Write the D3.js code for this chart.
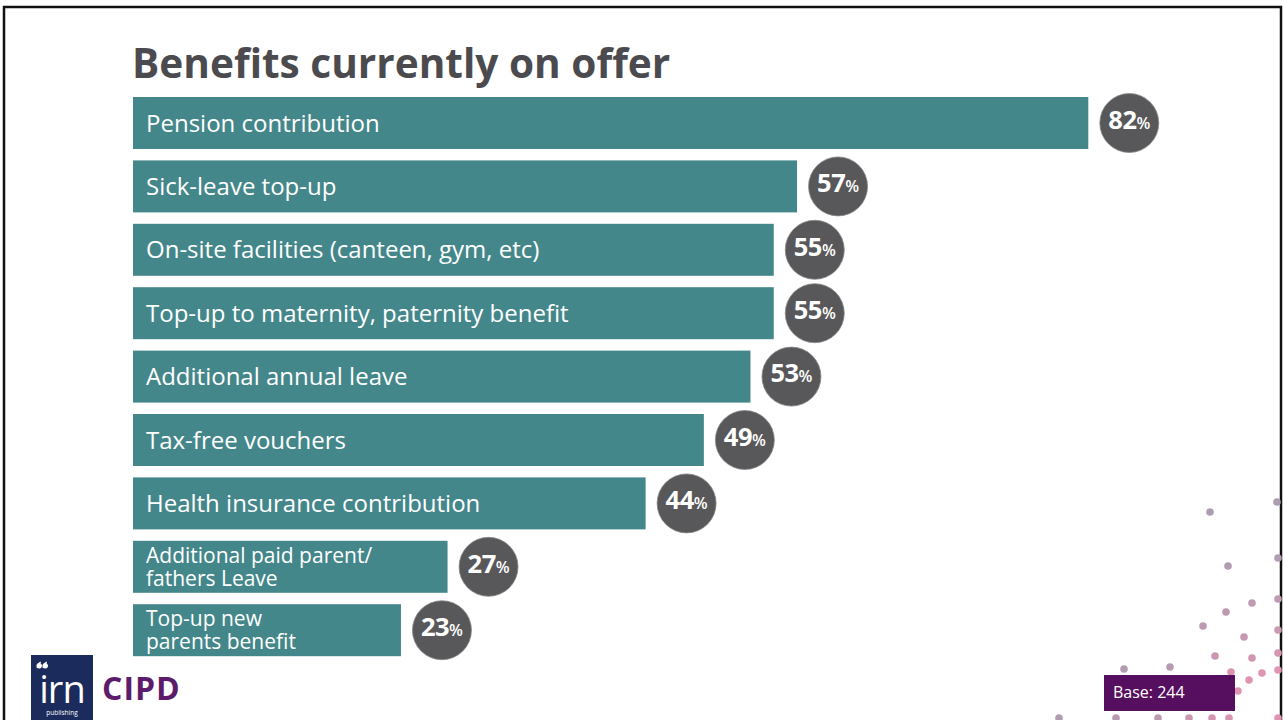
<!DOCTYPE html>
<html>
<head>
<meta charset="utf-8">
<script src="https://cdn.jsdelivr.net/npm/d3@7"></script>
<style>
  html, body { margin: 0; padding: 0; background: #fff; }
  svg { display: block; }
</style>
</head>
<body>
<svg id="chart" width="1283" height="720"></svg>
<script>
// Benefit categories (explicit line breaks with "\n") and share of employers offering them
const categories = [
  "Pension contribution",
  "Sick-leave top-up",
  "On-site facilities (canteen, gym, etc)",
  "Top-up to maternity, paternity benefit",
  "Additional annual leave",
  "Tax-free vouchers",
  "Health insurance contribution",
  "Additional paid parent/\nfathers Leave",
  "Top-up new\nparents benefit"
];
const values = [82, 57, 55, 55, 53, 49, 44, 27, 23];

const titleText = "Benefits currently on offer";
const baseText = "Base: 244";

// Decorative dot cluster in the lower-right corner: [x, y, pinkness]
const dotCluster = [
  [1210, 512, 0], [1277, 502, 0], [1228, 566, 0.1], [1278, 558, 0.1],
  [1252, 603, 0.35], [1226, 612, 0.3], [1278, 599, 0.35], [1203, 626, 0.3],
  [1244, 637, 0.5], [1278, 630, 0.55], [1215, 656, 0.55], [1252, 658, 0.7],
  [1278, 653, 0.75], [1124, 669, 0.1], [1170, 667, 0.2], [1231, 672, 0.8],
  [1262, 673, 0.9], [1249, 680, 0.95], [1278, 670, 0.95], [1238, 691, 0.9],
  [1059, 718, 0.1], [1116, 718, 0.2], [1158, 718, 0.3], [1189, 718, 0.6],
  [1212, 718, 0.8], [1229, 718, 0.8], [1278, 718, 1]
];

const teal = "#44878b";
const badge = "#58585a";
const ink = "#4b4b4f";

const svg = d3.select("#chart");

const x = d3.scaleLinear().domain([0, 100]).range([133, 1298]);
const y = d3.scaleBand().domain(categories).range([97, 656.2]).paddingInner(0.18).paddingOuter(0);

// Frame around the slide
svg.append("rect")
  .attr("x", 4).attr("y", 7).attr("width", 1277).attr("height", 720)
  .attr("fill", "none").attr("stroke", "#111").attr("stroke-width", 2.5);

// Title
svg.append("text")
  .attr("x", 132).attr("y", 78)
  .attr("font-family", "'Open Sans', sans-serif")
  .attr("font-weight", 700)
  .attr("font-size", 40.6)
  .attr("fill", ink)
  .text(titleText);

const rows = svg.append("g").selectAll("g.row")
  .data(categories.map((c, i) => ({ cat: c, val: values[i] })))
  .join("g").attr("class", "row");

// Bars
rows.append("rect")
  .attr("x", x(0))
  .attr("y", d => y(d.cat))
  .attr("width", d => x(d.val) - x(0))
  .attr("height", y.bandwidth())
  .attr("fill", teal);

// Category labels inside the bars
rows.each(function (d) {
  const lines = d.cat.split("\n");
  const g = d3.select(this);
  const cy = y(d.cat) + y.bandwidth() / 2;
  const fs = lines.length > 1 ? 21 : 24;
  const lh = 23;
  const t = g.append("text")
    .attr("font-family", "'Open Sans', sans-serif")
    .attr("font-weight", 500)
    .attr("font-size", fs)
    .attr("fill", "#fff");
  lines.forEach((ln, i) => {
    t.append("tspan")
      .attr("x", x(0) + 13)
      .attr("y", cy + (i - (lines.length - 1) / 2) * lh)
      .attr("dy", "0.36em")
      .text(ln);
  });
});

// Value badges
const r = 29.5;
rows.append("circle")
  .attr("cx", d => x(d.val) + 41)
  .attr("cy", d => y(d.cat) + y.bandwidth() / 2)
  .attr("r", r)
  .attr("fill", badge)
  .attr("stroke", "#8a8a8c")
  .attr("stroke-width", 0.8);

const vt = rows.append("text")
  .attr("x", d => x(d.val) + 41)
  .attr("y", d => y(d.cat) + y.bandwidth() / 2)
  .attr("dy", "0.36em")
  .attr("text-anchor", "middle")
  .attr("font-family", "'Open Sans', sans-serif")
  .attr("font-weight", 700)
  .attr("fill", "#fff");
vt.append("tspan").attr("font-size", 25.5).attr("letter-spacing", -0.5).text(d => d.val);
vt.append("tspan").attr("font-size", 16).attr("font-weight", 600).text("%");

// Decorative dots
const dotColor = d3.interpolateRgb("#ad9db2", "#e393b2");
svg.append("g").selectAll("circle")
  .data(dotCluster)
  .join("circle")
  .attr("cx", d => d[0]).attr("cy", d => d[1]).attr("r", 3.8)
  .attr("fill", d => dotColor(d[2]));

// Base note
svg.append("rect")
  .attr("x", 1104).attr("y", 675).attr("width", 131).attr("height", 36)
  .attr("fill", "#560f5e");
svg.append("text")
  .attr("x", 1113).attr("y", 698)
  .attr("font-family", "'Open Sans', sans-serif")
  .attr("font-size", 16)
  .attr("fill", "#fff")
  .text(baseText);

// Publisher logos
const logo = svg.append("g");
logo.append("rect")
  .attr("x", 31).attr("y", 655).attr("width", 62).attr("height", 70)
  .attr("fill", "#1b2c5c");
// opening quote mark drawn as two small comma shapes
[37, 43].forEach(qx => {
  logo.append("path")
    .attr("d", `M${qx + 2.2},${668} a2.2,2.2 0 1,1 0.01,0 Z M${qx + 0.2},${668} q0,-4 3.5,-6`)
    .attr("fill", "#fff")
    .attr("stroke", "#fff")
    .attr("stroke-width", 1.2);
});
logo.append("text")
  .attr("x", 62).attr("y", 703)
  .attr("text-anchor", "middle")
  .attr("font-family", "'Open Sans', sans-serif")
  .attr("font-weight", 500)
  .attr("font-size", 38)
  .attr("letter-spacing", -1)
  .attr("fill", "#fff")
  .text("irn");
logo.append("text")
  .attr("x", 62).attr("y", 715)
  .attr("text-anchor", "middle")
  .attr("font-family", "'Open Sans', sans-serif")
  .attr("font-size", 6.5)
  .attr("fill", "#fff")
  .text("publishing");
logo.append("text")
  .attr("x", 102).attr("y", 700)
  .attr("font-family", "'Open Sans', sans-serif")
  .attr("font-weight", 700)
  .attr("font-size", 32)
  .attr("letter-spacing", 1)
  .attr("fill", "#5c1b6b")
  .text("CIPD");
</script>
</body>
</html>
